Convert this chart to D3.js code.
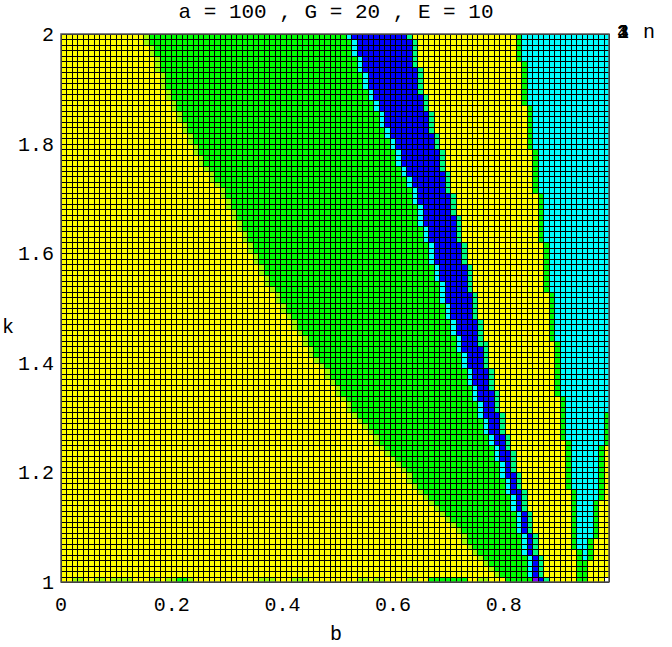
<!DOCTYPE html>
<html>
<head>
<meta charset="utf-8">
<script src="https://cdn.jsdelivr.net/npm/d3@7"></script>
<style>
  body { margin: 0; background: #fff; }
  text { font-family: 'Liberation Mono', 'Courier New', monospace; fill: #000; }
</style>
</head>
<body>
<div id="chart"></div>
<script>
// Region boundaries (in b), one value per k level
const kLevels = [1.0, 1.1, 1.2, 1.3, 1.4, 1.5, 1.6, 1.7, 1.8, 1.9, 2.0];
const greenStart = [0.80, 0.71, 0.62, 0.535, 0.465, 0.40, 0.347, 0.297, 0.235, 0.19, 0.151];
const blueStart = [0.855, 0.83, 0.80, 0.762, 0.73, 0.697, 0.668, 0.64, 0.598, 0.556, 0.521];
const blueEnd = [0.872, 0.85, 0.822, 0.795, 0.77, 0.748, 0.728, 0.705, 0.68, 0.652, 0.631];
const cyanStart = [0.937, 0.927, 0.918, 0.905, 0.895, 0.885, 0.873, 0.862, 0.85, 0.838, 0.826];
const cyanEnd = [0.94, 0.965, 0.975, 0.985, 1.05, 1.05, 1.05, 1.05, 1.05, 1.05, 1.05];

// Bottom row of cells (k = 1), one code per column
const bottomRow = ('YYLLYYLLYLLLLYYYLLYLLGGLYYYYYYYYYYYYLLLYYYLLLYYYYYYYYYLLYLLYYYYLLYYGGGGGGGYYLLYYYGGGGGPBSYYYYYGGYYYW').split('');

const nCols = 100;
const nRows = 100;
const bMax = 0.99;

const xTicks = [0, 0.2, 0.4, 0.6, 0.8];
const xTickLabels = ['0', '0.2', '0.4', '0.6', '0.8'];
const yTicks = [1, 1.2, 1.4, 1.6, 1.8, 2];
const yTickLabels = ['1', '1.2', '1.4', '1.6', '1.8', '2'];
const titleText = 'a = 100 , G = 20 , E = 10';
const stackLabels = ['1', '2', '3', '4'];

const codes = ['Y', 'L', 'G', 'S', 'C', 'A', 'B', 'P', 'W'];
const color = d3
  .scaleOrdinal()
  .domain(codes)
  .range(['#ffff00', '#a0ff00', '#00ff00', '#00ff80', '#00ffff', '#0080ff', '#0000ff', '#8000ff', '#ffffff']);

const W = 672;
const H = 647;
const x = d3.scaleLinear().domain([0, bMax]).range([61, 609]);
const y = d3.scaleLinear().domain([1, 2]).range([582, 34]);

// boundary value at k (piecewise linear between read levels)
function edgeAt(arr, k) {
  const f = d3.scaleLinear().domain(kLevels).range(arr).clamp(true);
  return f(k);
}

const cw = bMax / nCols;
const ch = 1 / nRows;

function cellCode(i, j) {
  if (j === 0) return bottomRow[i];
  const b = (i + 0.5) * cw;
  const k = 1 + (j + 0.5) * ch;
  const h = cw / 2;
  const gS = edgeAt(greenStart, k);
  const bS = edgeAt(blueStart, k);
  const bE = edgeAt(blueEnd, k);
  const cS = edgeAt(cyanStart, k);
  const cE = edgeAt(cyanEnd, k);
  if (b < gS - h) return 'Y';
  if (b < gS + h) return 'L';
  if (b < bS - h) return 'G';
  if (b < bS + h) return 'C';
  if (b < bE - h) return 'B';
  if (b < bE + h) return 'S';
  if (b < cS - h) return 'Y';
  if (b < cS + h) return 'G';
  if (b < cE - h) return 'C';
  if (b < cE + h) return 'G';
  return 'Y';
}

const cells = [];
for (let j = 0; j < nRows; j++) {
  for (let i = 0; i < nCols; i++) {
    cells.push({ i: i, j: j, code: cellCode(i, j) });
  }
}

const svg = d3.select('#chart').append('svg').attr('width', W).attr('height', H);

// Cells
svg
  .append('g')
  .selectAll('rect')
  .data(cells)
  .enter()
  .append('rect')
  .attr('x', (d) => x(d.i * cw))
  .attr('y', (d) => y(1 + (d.j + 1) * ch))
  .attr('width', x(cw) - x(0) + 0.3)
  .attr('height', y(1) - y(1 + ch) + 0.3)
  .attr('fill', (d) => color(d.code))
  .attr('shape-rendering', 'crispEdges');

// Mesh (crisp 1px black lines)
const mesh = svg.append('g').attr('stroke', '#000').attr('stroke-width', 1).attr('shape-rendering', 'crispEdges');
mesh
  .selectAll('.v')
  .data(d3.range(nCols + 1))
  .enter()
  .append('line')
  .attr('x1', (d) => Math.round(x(d * cw)) + 0.5)
  .attr('x2', (d) => Math.round(x(d * cw)) + 0.5)
  .attr('y1', y(1))
  .attr('y2', y(2));
mesh
  .selectAll('.h')
  .data(d3.range(nRows + 1))
  .enter()
  .append('line')
  .attr('x1', x(0))
  .attr('x2', x(bMax))
  .attr('y1', (d) => Math.round(y(1 + d * ch)) + 0.5)
  .attr('y2', (d) => Math.round(y(1 + d * ch)) + 0.5);

// Frame
svg
  .append('rect')
  .attr('x', x(0))
  .attr('y', y(2))
  .attr('width', x(bMax) - x(0))
  .attr('height', y(1) - y(2))
  .attr('fill', 'none')
  .attr('stroke', '#555')
  .attr('stroke-width', 1.5);

// Tick labels
svg
  .selectAll('.xt')
  .data(xTicks)
  .enter()
  .append('text')
  .attr('x', (d) => x(d))
  .attr('y', 611)
  .attr('text-anchor', 'middle')
  .style('font-size', '20px')
  .text((d, i) => xTickLabels[i]);
svg
  .selectAll('.yt')
  .data(yTicks)
  .enter()
  .append('text')
  .attr('x', 54)
  .attr('y', (d) => y(d) + 7)
  .attr('text-anchor', 'end')
  .style('font-size', '20px')
  .text((d, i) => yTickLabels[i]);

// Title and axis labels
svg.append('text').attr('x', 336).attr('y', 18).attr('text-anchor', 'middle').style('font-size', '21px').text(titleText);
svg.append('text').attr('x', 336).attr('y', 640).attr('text-anchor', 'middle').style('font-size', '20px').text('b');
svg.append('text').attr('x', 8).attr('y', 333).attr('text-anchor', 'middle').style('font-size', '20px').text('k');

// Overlapping labels at top right
svg
  .selectAll('.stk')
  .data(stackLabels)
  .enter()
  .append('text')
  .attr('x', 623)
  .attr('y', 38)
  .attr('text-anchor', 'middle')
  .style('font-size', '20px')
  .text((d) => d);
svg.append('text').attr('x', 649).attr('y', 38).attr('text-anchor', 'middle').style('font-size', '20px').text('n');
</script>
</body>
</html>
